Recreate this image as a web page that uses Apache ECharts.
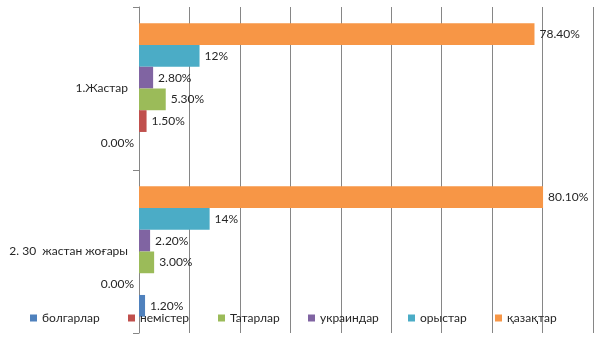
<!DOCTYPE html>
<html><head><meta charset="utf-8">
<script src="https://cdn.jsdelivr.net/npm/echarts@6/dist/echarts.min.js"></script>
<style>html,body{margin:0;padding:0;background:#fff}#c{width:605px;height:340px}</style>
</head><body><div id="c"></div>
<script>
const categories = ['1.Жастар', '2. 30  жастан жоғары'];
const seriesNames = ['болгарлар', 'немістер', 'Татарлар', 'украиндар', 'орыстар', 'қазақтар'];
const bolgarlar = [0.0, 1.2];
const nemister = [1.5, 0.0];
const tatarlar = [5.3, 3.0];
const ukraindar = [2.8, 2.2];
const orystar = [12, 14];
const qazaqtar = [78.4, 80.1];
const colors = ['#4F81BD', '#C0504D', '#9BBB59', '#8064A2', '#4BACC6', '#F79646'];
const legendLeft = [30, 128, 218, 308, 408, 495];

const values = [bolgarlar, nemister, tatarlar, ukraindar, orystar, qazaqtar];
const chart = echarts.init(document.getElementById('c'));
const font = 'Lato, "Open Sans", sans-serif';
const series = seriesNames.map((name, i) => ({
  name, type: 'bar', barGap: '0%', barCategoryGap: '20%',
  itemStyle: { color: colors[i] },
  label: {
    show: true, position: 'right', distance: 5, color: '#262626', fontSize: 12, fontFamily: font,
    formatter: p => (i === 4 ? p.value.toFixed(0) : p.value.toFixed(2)) + '%'
  },
  data: values[i].map(v => v === 0 ? { value: v, label: { position: 'left' } } : v)
})).reverse();
chart.setOption({
  animation: false,
  color: colors,
  grid: { left: 139, right: 12, top: 7, bottom: 7 },
  xAxis: {
    type: 'value', min: 0, max: 90, interval: 10,
    axisLine: { show: false }, axisTick: { show: false }, axisLabel: { show: false },
    splitLine: { show: true, lineStyle: { color: '#868686', width: 1 } }
  },
  yAxis: {
    type: 'category', data: categories, inverse: true,
    axisLine: { show: true, lineStyle: { color: '#868686' } },
    axisTick: { show: true, length: 6, lineStyle: { color: '#868686' } },
    axisLabel: { color: '#262626', fontSize: 12, fontFamily: font, margin: 11 }
  },
  legend: seriesNames.map((n, i) => ({
    data: [n], left: legendLeft[i], top: 312, itemWidth: 7, itemHeight: 7, itemGap: 0,
    icon: 'rect', textStyle: { color: '#262626', fontSize: 12, fontFamily: font }, padding: 0
  })),
  series
});
</script></body></html>
